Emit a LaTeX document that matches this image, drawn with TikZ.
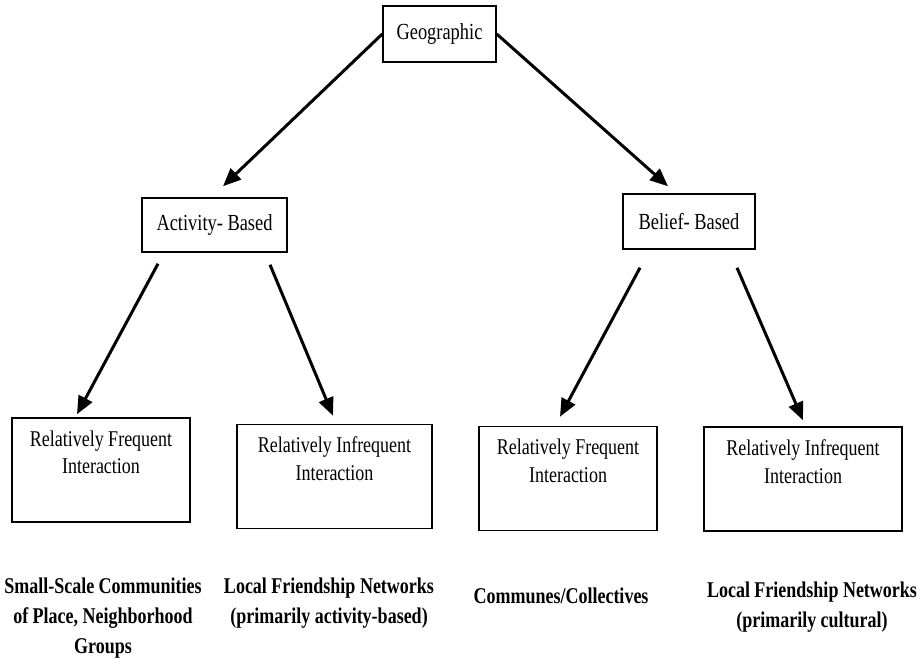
\documentclass[tikz,border=0pt]{standalone}
\usepackage{fontspec}
\setmainfont{Liberation Serif}[FakeStretch=0.8]
\usepackage{tikz}
\usetikzlibrary{arrows.meta,positioning}

\begin{document}
\begin{tikzpicture}[x=1pt,y=1pt,on grid,
        >={Triangle[length=18pt,width=15pt]},
        level/.style={draw,line width=1.5pt,inner sep=0pt,font=\fontsize{23}{27}\selectfont},
        group/.style={draw,line width=1.5pt,align=center,inner xsep=0pt,inner ysep=6pt,
            text height=50pt,text depth=42pt,font=\fontsize{22.5}{28}\selectfont},
        example/.style={align=center,font=\fontsize{22.5}{30}\selectfont\bfseries},
        link/.style={line width=3pt}]
    \useasboundingbox (0,0) rectangle (922,-660);
    \node[level,minimum width=113pt,minimum height=56pt] (geo) at (439.5,-34) {Geographic};
    \node[level,minimum width=145pt,minimum height=54pt] (act) [below left=191pt and 225pt of geo] {Activity- Based};
    \node[level,minimum width=132pt,minimum height=55pt] (bel) [below right=187.5pt and 249.5pt of geo] {Belief- Based};
    \node[group,minimum width=178pt] (act_freq) [below left=245pt and 113.5pt of act] {Relatively Frequent\\Interaction};
    \node[group,minimum width=195pt] (act_infreq) [below right=251.5pt and 120pt of act] {Relatively Infrequent\\Interaction};
    \node[group,minimum width=178pt] (bel_freq) [below left=257pt and 121pt of bel] {Relatively Frequent\\Interaction};
    \node[group,minimum width=198pt] (bel_infreq) [below right=257.5pt and 114pt of bel] {Relatively Infrequent\\Interaction};
    \node[example] (place) [below right=148pt and 2pt of act_freq] {Small-Scale Communities\\of Place, Neighborhood\\Groups};
    \node[example] (act_net) [below left=126.5pt and 5.5pt of act_infreq] {Local Friendship Networks\\(primarily activity-based)};
    \node[example] (communes) [below left=117.5pt and 7pt of bel_freq] {Communes/Collectives};
    \node[example] (cult_net) [below right=128pt and 9pt of bel_infreq] {Local Friendship Networks\\(primarily cultural)};
    \path[->,link]
        (geo.west) edge ([xshift=8.5pt,yshift=11pt]act.north)
        (geo.east) edge ([xshift=-21pt,yshift=7pt]bel.north)
        ([xshift=-56.5pt,yshift=-11pt]act.south) edge ([xshift=-24pt,yshift=3pt]act_freq.north)
        ([xshift=55.5pt,yshift=-12pt]act.south) edge ([xshift=-1.5pt,yshift=8pt]act_infreq.north)
        ([xshift=-49pt,yshift=-18pt]bel.south) edge ([xshift=-8pt,yshift=9pt]bel_freq.north)
        ([xshift=48pt,yshift=-18pt]bel.south) edge ([yshift=6pt]bel_infreq.north);
\end{tikzpicture}
\end{document}
